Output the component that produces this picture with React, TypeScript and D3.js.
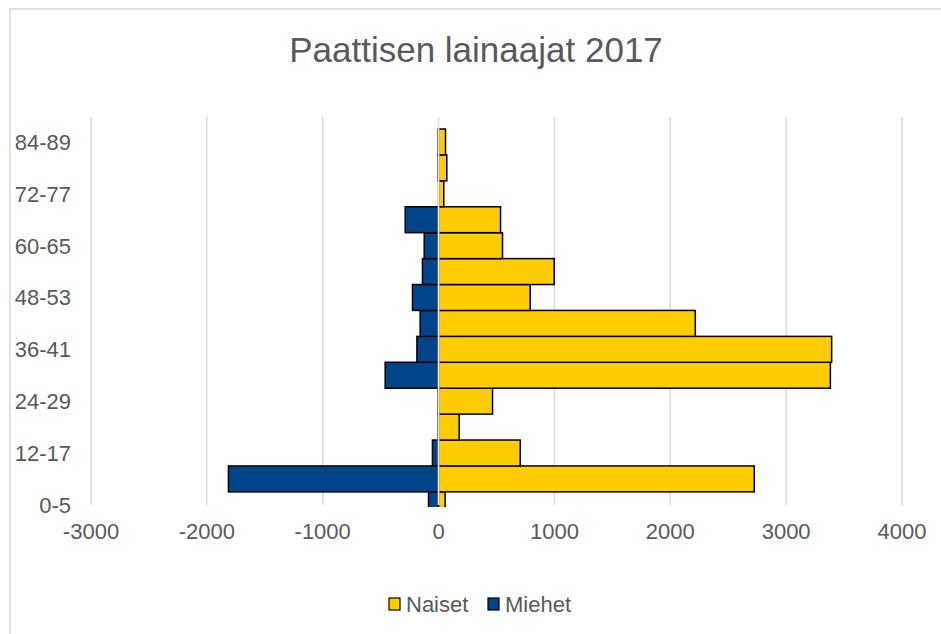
import React from "react";
import * as d3 from "d3";

const categories = ["0-5","6-11","12-17","18-23","24-29","30-35","36-41","42-47","48-53","54-59","60-65","66-71","72-77","78-83","84-89"];
const shownLabels = ["0-5","12-17","24-29","36-41","48-53","60-65","72-77","84-89"];
const naiset = [57, 2725, 705, 178, 466, 3382, 3393, 2216, 791, 998, 552, 535, 45, 71, 60];
const miehet = [-87, -1814, -53, -4, -4, -461, -187, -159, -225, -139, -124, -288, 0, -4, -4];
const xTicks = [-3000, -2000, -1000, 0, 1000, 2000, 3000, 4000];
const seriesNames = ["Naiset", "Miehet"];
const colors = ["#FFCC00", "#00458A"];

export default function App() {
  const W = 941, H = 634;
  const plotTop = 117, plotBottom = 505;
  const x = d3.scaleLinear().domain([-3000, 4000]).range([91, 902]);
  const bandTop = 129;
  const step = 25.92;
  const y = d3.scaleBand<string>()
    .domain(categories.slice().reverse())
    .range([bandTop, bandTop + step * categories.length])
    .paddingInner(0).paddingOuter(0);
  const textColor = "#595959";
  const font = "Liberation Sans, Arial, sans-serif";
  const x0 = x(0);

  return (
    <svg width={W} height={H} style={{ position: "absolute", left: 0, top: 0, background: "#fff" }} fontFamily={font}>
      <defs>
        <clipPath id="plotclip">
          <rect x={0} y={plotTop} width={W} height={plotBottom + 2 - plotTop} />
        </clipPath>
      </defs>
      <rect x={10} y={9} width={W + 20} height={H + 20} fill="#fff" stroke="#d9d9d9" strokeWidth={1.5} />
      <text x={476} y={62} textAnchor="middle" fontSize={35} fill={textColor}>Paattisen lainaajat 2017</text>
      {xTicks.filter(t => t !== 0).map(t => (
        <line key={t} x1={x(t)} x2={x(t)} y1={plotTop} y2={plotBottom} stroke="#d9d9d9" strokeWidth={1.5} />
      ))}
      <g clipPath="url(#plotclip)">
        {categories.map((c, i) => (
          <rect key={"m" + c} x={x(Math.min(0, miehet[i]))} y={y(c)!} width={Math.abs(x(miehet[i]) - x0)} height={y.bandwidth()}
            fill={colors[1]} stroke="#000" strokeWidth={1.5} />
        ))}
        {categories.map((c, i) => (
          <rect key={"n" + c} x={x0} y={y(c)!} width={x(naiset[i]) - x0} height={y.bandwidth()}
            fill={colors[0]} stroke="#000" strokeWidth={1.5} />
        ))}
      </g>
      <line x1={x0} x2={x0} y1={plotTop} y2={plotBottom} stroke="#e6e6e6" strokeWidth={1.8} />
      {categories.filter(c => shownLabels.includes(c)).map(c => (
        <text key={c} x={71} y={y(c)! + y.bandwidth() / 2 + 8} textAnchor="end" fontSize={22} fill={textColor}>{c}</text>
      ))}
      {xTicks.map(t => (
        <text key={t} x={x(t)} y={539} textAnchor="middle" fontSize={22} fill={textColor}>{t}</text>
      ))}
      {seriesNames.map((s, i) => {
        const lx = [389, 488][i];
        return (
          <g key={s}>
            <rect x={lx} y={598} width={11} height={12} fill={colors[i]} stroke="#000" strokeWidth={1.2} />
            <text x={lx + 17} y={612} fontSize={22} fill={textColor}>{s}</text>
          </g>
        );
      })}
    </svg>
  );
}
